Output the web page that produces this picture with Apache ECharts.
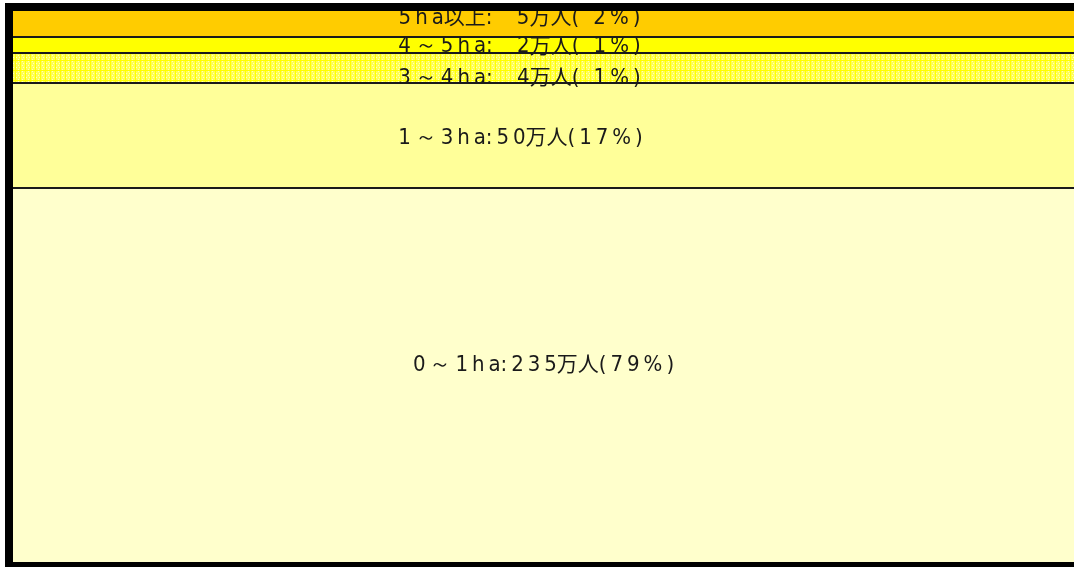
<!DOCTYPE html>
<html>
<head>
<meta charset="utf-8">
<script src="https://cdn.jsdelivr.net/npm/echarts@6/dist/echarts.min.js"></script>
<style>
  html, body { margin: 0; padding: 0; background: #fff; }
  #chart { width: 1074px; height: 567px; }
</style>
</head>
<body>
<div id="chart"></div>
<script>
// 経営規模別（下から積み上げ）
const classes = ['0～1ha', '1～3ha', '3～4ha', '4～5ha', '5ha以上'];
const people = [235, 50, 4, 2, 5];      // 万人
const shares = [79, 17, 1, 1, 2];       // %
// 図の中で各帯が占める高さ（全体=100、図から読み取り）
const bandSize = [67.9, 19.1, 5.5, 2.8, 4.7];

// 3～4ha の帯の網掛け
function makePattern() {
    const c = document.createElement('canvas');
    c.width = 10; c.height = 10;
    const g = c.getContext('2d');
    g.fillStyle = '#ffff55';
    g.fillRect(0, 0, 10, 10);
    g.fillStyle = '#ffffbb';
    for (let y = 1; y < 10; y += 2)
        for (let x = (y % 4 === 1 ? 2 : 3); x < 10; x += 3)
            g.fillRect(x, y, 1, 1);
    g.fillStyle = '#ffff00';
    g.fillRect(0, 0, 10, 1);
    g.fillRect(0, 0, 1, 10);
    g.fillRect(5, 0, 1, 10);
    return c;
}

const bandColors = ['#ffffcc', '#ffff99', { image: makePattern(), repeat: 'repeat' }, '#ffff00', '#ffcc00'];
const labelOffsets = [[0, -10], [-23, 3], [-24, 11], [-24, 2], [-24, -6]];

// 半角文字の間にスペースを入れて字間を広げる
function spread(s) {
    return s.split('').join('\u2009');
}
function pad(n, w) {
    let s = String(n);
    while (s.length < w) s = ' ' + s;
    return s;
}
function labelText(i) {
    const sep = people[i] < 10 ? ': ' : ':';
    const cls = classes[i].replace('以上', '');
    const tail = classes[i].endsWith('以上') ? '{k|以上}' : '';
    return '{n|' + spread(cls) + '}' + tail +
        '{n|' + spread(sep + pad(people[i], people[i] < 10 ? 2 : 1)) + '}' +
        '{k|万人}' +
        '{n|' + spread('(' + pad(shares[i], 2) + '%)') + '}';
}

// 帯の境界線（累積値）
const bounds = [];
let acc = 0;
bandSize.forEach((v, i) => {
    acc += v;
    if (i < bandSize.length - 1) bounds.push({ yAxis: acc });
});

const chart = echarts.init(document.getElementById('chart'));

const series = classes.map((name, i) => ({
    name: name,
    type: 'bar',
    stack: 'all',
    barWidth: '100%',
    data: [bandSize[i]],
    itemStyle: { color: bandColors[i] },
    label: {
        show: true,
        position: 'inside',
        offset: labelOffsets[i],
        formatter: () => labelText(i),
        rich: {
            n: {
                fontFamily: '"Liberation Sans Narrow", "DejaVu Sans Condensed", sans-serif',
                fontSize: 22,
                lineHeight: 26,
                verticalAlign: 'middle',
                color: '#1a1a1a'
            },
            k: {
                fontFamily: '"Noto Sans CJK JP", sans-serif',
                fontSize: 21,
                lineHeight: 26,
                verticalAlign: 'middle',
                padding: [0, 0, 4, 0],
                color: '#1a1a1a'
            }
        }
    }
}));

series[series.length - 1].markLine = {
    silent: true,
    symbol: 'none',
    z: 10,
    label: { show: false },
    lineStyle: { color: '#1a1a1a', width: 2, type: 'solid' },
    data: bounds
};

chart.setOption({
    animation: false,
    grid: { left: 13, right: 0, top: 11, bottom: 5 },
    xAxis: { type: 'category', data: ['農家人口'], show: false },
    yAxis: { type: 'value', min: 0, max: 100, show: false },
    series: series,
    graphic: [
        { type: 'rect', z: 100, shape: { x: 5, y: 3, width: 1069, height: 8 }, style: { fill: '#000' } },
        { type: 'rect', z: 100, shape: { x: 5, y: 3, width: 8, height: 564 }, style: { fill: '#000' } },
        { type: 'rect', z: 100, shape: { x: 5, y: 562, width: 1069, height: 5 }, style: { fill: '#000' } }
    ]
});
</script>
</body>
</html>
